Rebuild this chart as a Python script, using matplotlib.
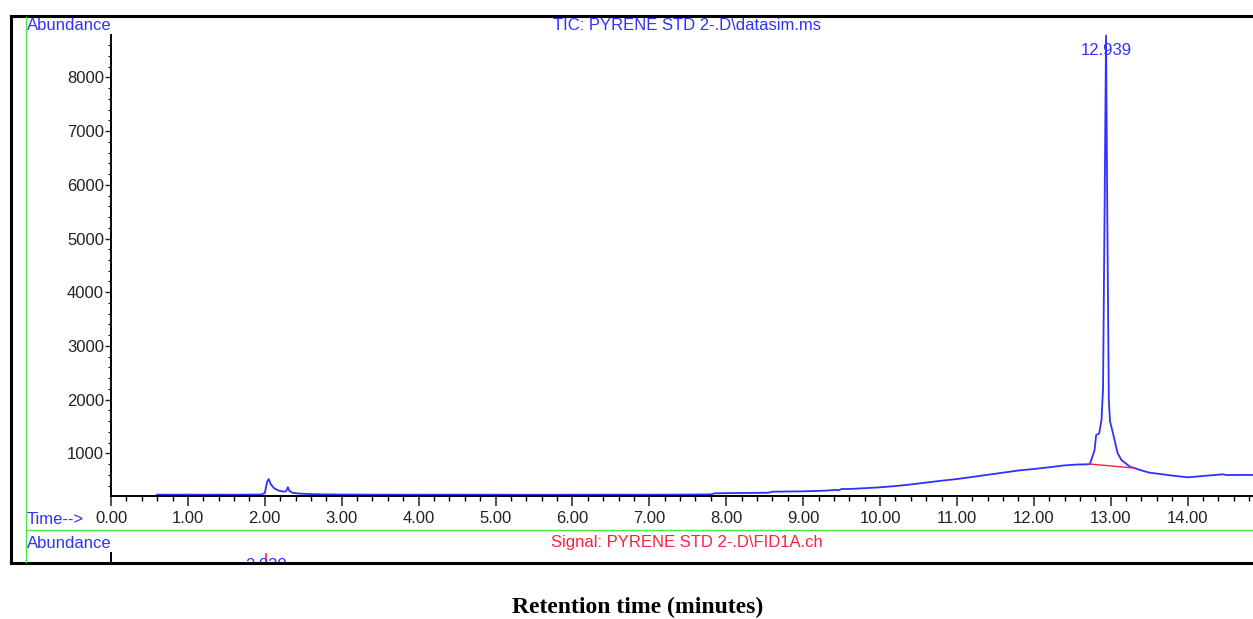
import matplotlib.pyplot as plt
import matplotlib.ticker as ticker
from matplotlib.lines import Line2D

plt.rcParams['font.family'] = ['Liberation Sans', 'DejaVu Sans']

# TIC trace (time in minutes, abundance)
time = [0.60, 0.80, 1.00, 1.20, 1.40, 1.60, 1.80, 1.95, 2.00, 2.03, 2.05, 2.08,
        2.12, 2.18, 2.25, 2.28, 2.30, 2.32, 2.36, 2.45, 2.60, 2.80, 3.00, 3.50,
        4.00, 4.50, 5.00, 5.50, 6.00, 6.50, 7.00, 7.50, 7.80, 7.85, 8.00, 8.30,
        8.55, 8.60, 9.00, 9.30, 9.43, 9.46, 9.50, 9.60, 9.80, 10.00, 10.20, 10.40,
        10.60, 10.80, 11.00, 11.20, 11.40, 11.60, 11.80, 12.00, 12.20, 12.40, 12.55,
        12.68, 12.73, 12.79, 12.81, 12.85, 12.88, 12.90, 12.92, 12.939, 12.955,
        12.975, 12.99, 13.03, 13.09, 13.14, 13.25, 13.31, 13.38, 13.50, 13.64,
        13.80, 14.00, 14.10, 14.30, 14.46, 14.50, 14.70, 14.85]
abundance = [230, 229, 231, 228, 230, 229, 231, 232, 260, 470, 520, 420,
             350, 305, 285, 300, 370, 300, 265, 250, 240, 235, 232, 230,
             229, 230, 229, 228, 229, 230, 229, 232, 236, 255, 258, 262,
             266, 285, 292, 305, 320, 310, 335, 336, 350, 367, 390, 420,
             455, 490, 521, 560, 600, 640, 680, 708, 740, 775, 790,
             795, 800, 1061, 1340, 1370, 1620, 2200, 5500, 8780, 5500,
             2000, 1600, 1370, 1000, 875, 750, 725, 690, 640, 615,
             585, 553, 565, 590, 609, 595, 598, 596]

# integration baseline under the main peak
base_time = [12.73, 13.31]
base_abund = [800, 725]

peak_rt = 12.939
peak_label = '12.939'

blue = '#3030ff'
red = '#ff2040'
green = '#44ee44'

fig = plt.figure(figsize=(12.53, 6.19), dpi=100)
W, H = 1253, 619


def fx(px):
    return px / W


def fy(py):
    return 1 - py / H


ax = fig.add_axes([fx(111), fy(496), 1 - fx(111), fy(35) - fy(496)])
ax.plot(time, abundance, color=blue, lw=1.3, clip_on=False)
ax.plot(base_time, base_abund, color=red, lw=1.0)

ax.set_xlim(0, 14.85)
ax.set_ylim(205, 8790)
ax.spines['top'].set_visible(False)
ax.spines['right'].set_visible(False)
ax.spines['left'].set_linewidth(1.4)
ax.spines['bottom'].set_linewidth(1.4)

ax.xaxis.set_major_locator(ticker.MultipleLocator(1))
ax.xaxis.set_minor_locator(ticker.MultipleLocator(0.2))
ax.xaxis.set_major_formatter(ticker.FormatStrFormatter('%.2f'))
ax.yaxis.set_major_locator(ticker.MultipleLocator(1000))
ax.yaxis.set_minor_locator(ticker.MultipleLocator(200))
ax.tick_params(axis='x', which='major', length=7, width=1.1, pad=4, labelsize=12, colors='#222222')
ax.tick_params(axis='x', which='minor', length=3.5, width=1.0)
ax.tick_params(axis='y', which='major', length=4, width=1.0, pad=1, labelsize=12, colors='#222222')
ax.tick_params(axis='y', which='minor', length=2, width=0.8)

ax.text(peak_rt, 8500, peak_label, color=blue, fontsize=12, ha='center', va='center')

# lower (FID) panel, cut off by the frame
ax2 = fig.add_axes([fx(111), fy(563), 1 - fx(111), fy(553) - fy(563)])
ax2.set_xlim(0, 14.85)
ax2.set_ylim(0, 1)
for s in ['top', 'right', 'bottom']:
    ax2.spines[s].set_visible(False)
ax2.spines['left'].set_linewidth(1.4)
ax2.set_xticks([])
ax2.set_yticks([])
ax2.patch.set_alpha(0)
ax2.text(2.02, 0.55, '2.030', color=blue, fontsize=12, ha='center', va='top', clip_on=True)
ax2.plot([2.02, 2.02], [0, 0.9], color=red, lw=1.2)

# frame and separator lines
fig.add_artist(Line2D([fx(11), 1], [fy(16), fy(16)], color='black', lw=2.2))
fig.add_artist(Line2D([fx(11), 1], [fy(563), fy(563)], color='black', lw=2.2))
fig.add_artist(Line2D([fx(11), fx(11)], [fy(16), fy(563)], color='black', lw=2.2))
fig.add_artist(Line2D([fx(26), fx(26)], [fy(17), fy(562)], color=green, lw=1.0))
fig.add_artist(Line2D([fx(26), 1], [fy(530), fy(530)], color=green, lw=1.0))

fig.text(fx(27), fy(26), 'Abundance', color=blue, fontsize=12, ha='left', va='center')
fig.text(fx(687), fy(26), 'TIC: PYRENE STD 2-.D\\datasim.ms', color=blue, fontsize=12,
         ha='center', va='center')
fig.text(fx(27), fy(519), 'Time-->', color=blue, fontsize=12, ha='left', va='center')
fig.text(fx(27), fy(543), 'Abundance', color=blue, fontsize=12, ha='left', va='center')
fig.text(fx(687), fy(543), 'Signal: PYRENE STD 2-.D\\FID1A.ch', color=red, fontsize=12,
         ha='center', va='center')
fig.text(fx(638), fy(607), 'Retention time (minutes)', family='Liberation Serif',
         fontweight='bold', fontsize=17, ha='center', va='center')

fig.savefig('out.png', dpi=100)
